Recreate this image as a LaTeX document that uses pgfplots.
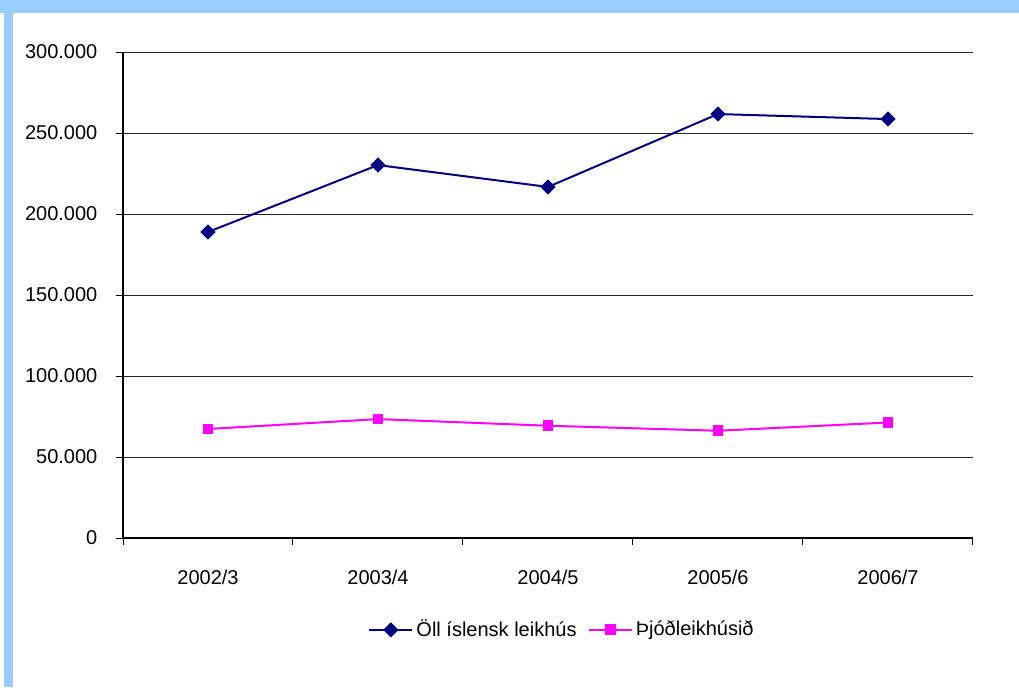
\documentclass[border=0pt]{standalone}
\usepackage{pgfplots}
\pgfplotsset{compat=1.18}
\usepackage{fontspec}
\setmainfont{Liberation Sans}
\definecolor{frameblue}{HTML}{99CCFF}
\definecolor{navyline}{HTML}{000080}
\definecolor{pinkline}{HTML}{FF00FF}
\begin{document}
\begin{tikzpicture}
\useasboundingbox (0,0) rectangle (509.5pt,343.5pt);
\fill[white] (0,0) rectangle (509.5pt,343.5pt);
% blue frame at top and left
\fill[frameblue] (0,337pt) rectangle (509.5pt,343.5pt);
\fill[frameblue] (2pt,0) rectangle (6.5pt,343.5pt);
\begin{axis}[
    at={(61.5pt,74.5pt)}, anchor=south west,
    scale only axis,
    width=425pt, height=243pt,
    xmin=0, xmax=5, ymin=0, ymax=300000,
    axis x line=bottom, axis y line=left,
    axis line style={-, black, line width=0.6pt},
    xtick={0,1,2,3,4,5},
    x tick label as interval,
    xticklabels={2002/3,2003/4,2004/5,2005/6,2006/7},
    ytick={0,50000,100000,150000,200000,250000,300000},
    scaled y ticks=false,
    /pgf/number format/fixed,
    /pgf/number format/1000 sep={.},
    /pgf/number format/assume math mode=true,
    tick align=outside,
    major tick length=3.3pt,
    tick style={black, line width=0.5pt},
    ymajorgrids,
    grid style={black!85, line width=0.5pt},
    tick label style={font=\fontsize{10}{12}\selectfont},
    yticklabel style={xshift=-6pt},
    xticklabel style={yshift=-9pt},
    legend columns=2,
    legend style={at={(0.517,-0.189)}, anchor=center, draw=none, fill=none,
        inner sep=0pt, font=\fontsize{10}{12}\selectfont,
        nodes={inner sep=1.5pt},
        /tikz/every even column/.append style={column sep=4pt}},
    legend image code/.code={\draw[mark repeat=2,mark phase=2]
        plot coordinates {(0cm,0cm) (0.38cm,0cm) (0.76cm,0cm)};},
]
\addplot[navyline, line width=1pt, mark=square*, mark size=2.2pt,
    mark options={solid, fill=navyline, rotate=45}]
    coordinates {(0.5,188900) (1.5,230200) (2.5,216700) (3.5,261700) (4.5,258600)};
\addlegendentry{Öll íslensk leikhús}
\addplot[pinkline, line width=1pt, mark=square*, mark size=2.2pt,
    mark options={solid, fill=pinkline}]
    coordinates {(0.5,67300) (1.5,73400) (2.5,69300) (3.5,66200) (4.5,71300)};
\addlegendentry{Þjóðleikhúsið}
\end{axis}
\end{tikzpicture}
\end{document}
